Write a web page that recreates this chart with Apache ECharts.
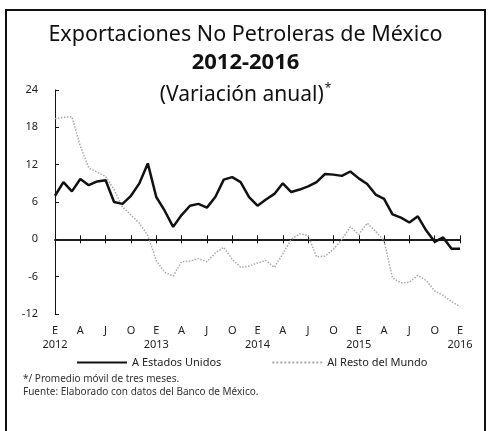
<!DOCTYPE html>
<html>
<head>
<meta charset="utf-8">
<script src="https://cdn.jsdelivr.net/npm/echarts@6/dist/echarts.min.js"></script>
<style>
	html, body { margin: 0; padding: 0; background: #fff; }
	#main { width: 491px; height: 431px; }
</style>
</head>
<body>
<div id="main"></div>
<script>
	// etiquetas de los meses (E=enero ... D=diciembre) y años
	var monthLetters = ['E', 'F', 'M', 'A', 'M', 'J', 'J', 'A', 'S', 'O', 'N', 'D'];
	var years = ['2012', '2013', '2014', '2015', '2016'];

	// variación anual, ene 2012 - ene 2016 (49 meses)
	var estadosUnidos = [
		7.0, 9.2, 7.7, 9.7, 8.7, 9.3, 9.5, 6.0, 5.7, 7.0, 9.0, 12.2,
		6.8, 4.6, 2.0, 3.9, 5.4, 5.7, 5.1, 6.8, 9.6, 10.0, 9.2, 6.8,
		5.4, 6.4, 7.3, 9.0, 7.6, 8.0, 8.5, 9.2, 10.5, 10.4, 10.2, 10.9,
		9.8, 8.9, 7.2, 6.5, 4.0, 3.5, 2.7, 3.7, 1.4, -0.4, 0.3, -1.5,
		-1.5
	];
	var restoMundo = [
		19.4, 19.6, 19.7, 15.0, 11.5, 10.8, 10.1, 8.0, 5.2, 3.9, 2.6, 0.6,
		-3.4, -5.3, -5.9, -3.6, -3.5, -3.1, -3.6, -2.2, -1.3, -3.2, -4.5, -4.3,
		-3.8, -3.4, -4.5, -2.3, 0.0, 0.9, 0.6, -2.8, -2.7, -1.6, 0.0, 2.0,
		0.8, 2.6, 1.3, -0.2, -6.2, -7.0, -6.9, -5.8, -6.6, -8.3, -9.0, -10.0,
		-10.8
	];

	var categories = [];
	for (var y = 0; y < years.length; y++) {
		for (var m = 0; m < 12; m++) {
			if (y === years.length - 1 && m > 0) break;
			categories.push(monthLetters[m] + (m === 0 ? '\n' + years[y] : ''));
		}
	}

	var fuente = '"Noto Sans", "Open Sans", sans-serif';
	var myChart = echarts.init(document.getElementById('main'));

	var zeroAxis = {
		type: 'category',
		data: categories,
		position: 'bottom',
		boundaryGap: false,
		axisLine: {
			onZero: true,
			onZeroAxisIndex: 0,
			lineStyle: { color: '#111', width: 1.5 }
		},
		axisTick: {
			interval: 2,
			length: 4,
			lineStyle: { color: '#111', width: 1 }
		},
		axisLabel: { show: false },
		splitLine: { show: false }
	};

	var option = {
		animation: false,
		backgroundColor: '#fff',
		title: [{
			text: 'Exportaciones No Petroleras de México',
			left: 'center',
			top: 19,
			textStyle: { fontFamily: fuente, fontSize: 21.5, fontWeight: 'normal', color: '#111' }
		}, {
			text: '2012-2016',
			left: 'center',
			top: 47,
			textStyle: { fontFamily: fuente, fontSize: 22, fontWeight: 'bold', color: '#111' }
		}, {
			text: '(Variación anual){s|*}',
			left: 'center',
			top: 78,
			textStyle: {
				fontFamily: fuente, fontSize: 21, fontWeight: 'normal', color: '#111',
				rich: { s: { fontFamily: fuente, fontSize: 12, verticalAlign: 'top', padding: [0, 0, 12, 1] } }
			}
		}],
		graphic: [{
			type: 'rect',
			shape: { x: 6, y: 10, width: 479, height: 430 },
			style: { fill: 'none', stroke: '#111', lineWidth: 2 }
		}, {
			type: 'text',
			left: 23,
			top: 374,
			style: { text: '*/ Promedio móvil de tres meses.', font: '10px ' + fuente, fill: '#333' }
		}, {
			type: 'text',
			left: 23,
			top: 387,
			style: { text: 'Fuente: Elaborado con datos del Banco de México.', font: '10px ' + fuente, fill: '#333' }
		}],
		legend: {
			left: 71,
			top: 352,
			itemWidth: 50,
			itemHeight: 10,
			itemGap: 50,
			itemStyle: { opacity: 0 },
			textStyle: { fontFamily: fuente, fontSize: 11, color: '#222' },
			data: ['A Estados Unidos', 'Al Resto del Mundo']
		},
		grid: {
			left: 55,
			right: 31,
			top: 90,
			bottom: 117
		},
		xAxis: [{
			type: 'category',
			data: categories,
			position: 'bottom',
			boundaryGap: false,
			axisLine: { show: false, onZero: false },
			axisTick: { show: false },
			axisLabel: {
				interval: 2,
				margin: 10,
				fontFamily: fuente,
				fontSize: 11,
				lineHeight: 14,
				color: '#222'
			},
			splitLine: { show: false }
		},
		echarts.util.merge({ axisTick: { inside: false } }, zeroAxis, true),
		echarts.util.merge({ axisTick: { inside: true } }, zeroAxis, true)
		],
		yAxis: {
			type: 'value',
			min: -12,
			max: 24,
			interval: 6,
			axisLine: { show: true, lineStyle: { color: '#111', width: 1 } },
			axisTick: { show: true, inside: true, length: 4, lineStyle: { color: '#111' } },
			axisLabel: { margin: 17, fontFamily: fuente, fontSize: 11, color: '#222' },
			splitLine: { show: false }
		},
		series: [{
			name: 'A Estados Unidos',
			type: 'line',
			symbol: 'none',
			color: '#111',
			lineStyle: { color: '#111', width: 2.5 },
			data: estadosUnidos,
			z: 3
		}, {
			name: 'Al Resto del Mundo',
			type: 'line',
			symbol: 'none',
			color: '#a8a8a8',
			lineStyle: { color: '#a8a8a8', width: 1.5, type: 'dotted' },
			data: restoMundo,
			z: 2
		}]
	};

	option && myChart.setOption(option);
</script>
</body>
</html>
